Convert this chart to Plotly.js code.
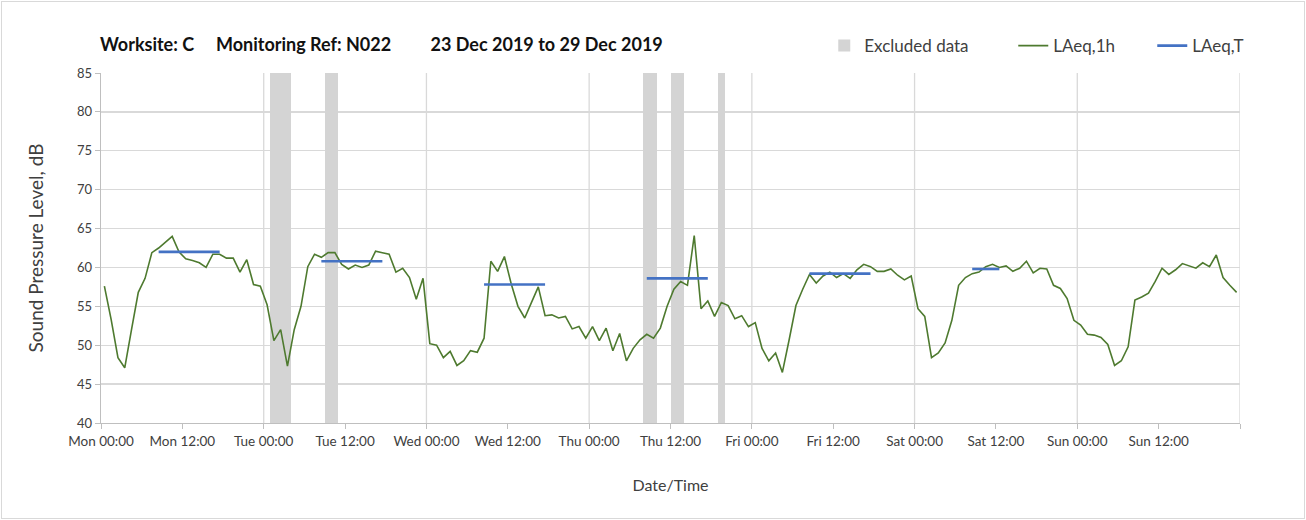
<!DOCTYPE html>
<html>
<head>
<meta charset="utf-8">
<script src="https://cdn.plot.ly/plotly-3.0.1.min.js"></script>
<style>
  html, body { margin: 0; padding: 0; background: #ffffff; }
  #wrap { position: relative; width: 1306px; height: 520px; }
  #chart { width: 1306px; height: 520px; }
  #frame { position: absolute; left: 1px; top: 1px; width: 1302px; height: 516px; border: 1px solid #d9d9d9; pointer-events: none; }
</style>
</head>
<body>
<div id="wrap"><div id="chart"></div><div id="frame"></div></div>
<script>
// Hourly LAeq,1h values, Mon 00:00 (23 Dec 2019) to Sun 23:00 (29 Dec 2019)
const laeq1h = [
  // Mon
  57.6, 53.3, 48.4, 47.1, 52.0, 56.8, 58.6, 61.9, 62.5, 63.3, 64.0, 62.0,
  61.1, 60.9, 60.6, 60.0, 61.7, 61.7, 61.2, 61.2, 59.4, 61.0, 57.8, 57.6,
  // Tue
  55.2, 50.6, 52.0, 47.3, 52.0, 55.0, 60.1, 61.7, 61.3, 61.9, 61.9, 60.4,
  59.8, 60.3, 60.0, 60.3, 62.1, 61.9, 61.7, 59.4, 59.9, 58.7, 55.9, 58.6,
  // Wed
  50.2, 50.0, 48.4, 49.2, 47.4, 48.0, 49.3, 49.1, 50.9, 60.8, 59.5, 61.4,
  57.9, 55.0, 53.5, 55.5, 57.5, 53.8, 53.9, 53.5, 53.7, 52.1, 52.4, 50.9,
  // Thu
  52.4, 50.6, 52.2, 49.3, 51.5, 48.0, 49.6, 50.7, 51.4, 50.9, 52.2, 55.0,
  57.2, 58.2, 57.7, 64.1, 54.7, 55.7, 53.7, 55.5, 55.1, 53.4, 53.8, 52.4,
  // Fri
  52.9, 49.6, 48.0, 49.0, 46.5, 50.7, 55.1, 57.2, 59.1, 58.0, 58.9, 59.4,
  58.7, 59.2, 58.6, 59.7, 60.4, 60.1, 59.5, 59.5, 59.8, 59.0, 58.4, 58.9,
  // Sat
  54.7, 53.7, 48.4, 49.0, 50.3, 53.2, 57.7, 58.7, 59.2, 59.4, 60.1, 60.4,
  60.0, 60.2, 59.5, 59.9, 60.8, 59.3, 59.9, 59.8, 57.7, 57.3, 56.0, 53.2,
  // Sun
  52.6, 51.4, 51.3, 51.0, 50.1, 47.4, 48.0, 49.8, 55.8, 56.2, 56.7, 58.2,
  59.9, 59.1, 59.7, 60.5, 60.2, 59.9, 60.6, 60.1, 61.6, 58.7, 57.7, 56.8
];

// LAeq,T assessment periods (hour index from Mon 00:00, inclusive)
const tPeriodStart = [8, 32, 56, 80, 104, 128];
const tPeriodEnd   = [17, 41, 65, 89, 113, 132];
const tValues      = [62.0, 60.8, 57.8, 58.6, 59.2, 59.8];

// Excluded hours (hour index from Mon 00:00)
const excludedHours = [25, 26, 27, 33, 34, 80, 81, 84, 85, 91];

// Axis ticks
const tickHours  = [0, 12, 24, 36, 48, 60, 72, 84, 96, 108, 120, 132, 144, 156, 168];
const tickLabels = ["Mon 00:00", "Mon 12:00", "Tue 00:00", "Tue 12:00", "Wed 00:00", "Wed 12:00",
                    "Thu 00:00", "Thu 12:00", "Fri 00:00", "Fri 12:00", "Sat 00:00", "Sat 12:00",
                    "Sun 00:00", "Sun 12:00", ""];
const dayGridHours = [24, 48, 72, 96, 120, 144, 168];

const yMin = 40, yMax = 85;
const FONT = "Lato, 'Open Sans', sans-serif";

const hourX = laeq1h.map((_, i) => i + 0.5);

const tx = [], ty = [];
tPeriodStart.forEach((s, k) => {
  tx.push(s + 0.5, tPeriodEnd[k] + 0.5, null);
  ty.push(tValues[k], tValues[k], null);
});

const traces = [
  {
    type: "bar",
    name: "Excluded data",
    x: excludedHours.map(h => h + 0.5),
    y: excludedHours.map(() => yMax - yMin),
    base: yMin,
    width: 1,
    marker: { color: "#d4d4d4", line: { width: 0 } },
    legendwidth: 144,
    hoverinfo: "skip"
  },
  {
    type: "scatter",
    mode: "lines",
    name: "LAeq,1h",
    x: hourX,
    y: laeq1h,
    legendwidth: 94,
    line: { color: "#4e7a2f", width: 1.6 }
  },
  {
    type: "scatter",
    mode: "lines",
    name: "LAeq,T",
    x: tx,
    y: ty,
    connectgaps: false,
    legendwidth: 60,
    line: { color: "#4472c4", width: 2.6 }
  }
];

const shapes = dayGridHours.map(h => ({
  type: "line", xref: "x", yref: "paper", x0: h, x1: h, y0: 0, y1: 1,
  line: { color: "#d9d9d9", width: 1.3 }, layer: "below"
}));

const layout = {
  width: 1306,
  height: 520,
  margin: { l: 101, r: 66, t: 73, b: 97, autoexpand: false },
  paper_bgcolor: "#ffffff",
  plot_bgcolor: "#ffffff",
  font: { family: FONT, color: "#404040" },
  showlegend: true,
  title: {
    text: "<b>Worksite: C\u00a0\u00a0\u00a0\u00a0\u00a0Monitoring Ref: N022\u00a0\u00a0\u00a0\u00a0\u00a0\u00a0\u00a0\u00a0\u00a023 Dec 2019 to 29 Dec 2019</b>",
    x: 100 / 1306, xref: "container", xanchor: "left",
    y: 1 - 45 / 520, yref: "container", yanchor: "middle",
    font: { family: FONT, size: 18, color: "#111111" }
  },
  legend: {
    orientation: "h",
    x: 0.635, xanchor: "left",
    y: 1.077, yanchor: "middle",
    font: { family: FONT, size: 17, color: "#404040" },
    bgcolor: "rgba(0,0,0,0)",
    traceorder: "normal"
  },
  bargap: 0,
  xaxis: {
    range: [0, 168],
    tickmode: "array",
    tickvals: tickHours,
    ticktext: tickLabels,
    showgrid: false,
    zeroline: false,
    showline: true,
    linecolor: "#bfbfbf",
    linewidth: 1.3,
    ticks: "outside",
    ticklen: 5,
    tickcolor: "#bfbfbf",
    tickfont: { family: FONT, size: 13.5, color: "#404040" },
    title: { text: "Date/Time", font: { family: FONT, size: 16, color: "#404040" }, standoff: 32 },
    fixedrange: true
  },
  yaxis: {
    range: [yMin, yMax],
    dtick: 5,
    tick0: 40,
    showgrid: true,
    gridcolor: "#d9d9d9",
    gridwidth: 1.3,
    zeroline: false,
    showline: true,
    linecolor: "#bfbfbf",
    linewidth: 1.3,
    ticks: "outside",
    ticklen: 5,
    tickcolor: "#bfbfbf",
    tickfont: { family: FONT, size: 13, color: "#404040" },
    title: { text: "Sound Pressure Level, dB", font: { family: FONT, size: 19, color: "#404040" }, standoff: 28 },
    fixedrange: true
  },
  shapes: shapes
};

Plotly.newPlot("chart", traces, layout, { displayModeBar: false, staticPlot: true });
</script>
</body>
</html>
